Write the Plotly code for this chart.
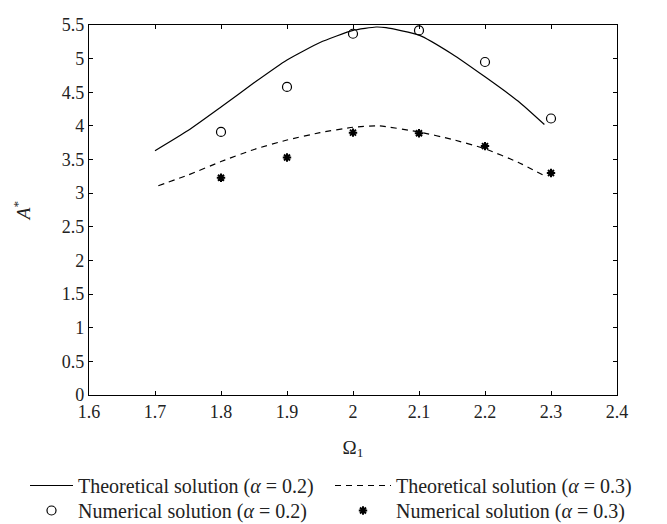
import plotly.graph_objects as go

# Theoretical curves
theo_x_02 = [1.70, 1.75, 1.80, 1.85, 1.90, 1.95, 2.00, 2.035, 2.05, 2.10, 2.15, 2.20, 2.25, 2.29]
theo_y_02 = [3.63, 3.93, 4.28, 4.64, 4.98, 5.24, 5.42, 5.47, 5.46, 5.35, 5.07, 4.73, 4.37, 4.02]
theo_x_03 = [1.705, 1.75, 1.80, 1.85, 1.90, 1.95, 2.00, 2.04, 2.10, 2.15, 2.20, 2.25, 2.29]
theo_y_03 = [3.11, 3.27, 3.47, 3.65, 3.79, 3.90, 3.98, 4.00, 3.91, 3.80, 3.66, 3.46, 3.26]

# Numerical solutions
num_x = [1.8, 1.9, 2.0, 2.1, 2.2, 2.3]
num_y_02 = [3.91, 4.58, 5.37, 5.42, 4.95, 4.11]
num_y_03 = [3.23, 3.53, 3.90, 3.89, 3.70, 3.30]

x_ticks = [1.6, 1.7, 1.8, 1.9, 2.0, 2.1, 2.2, 2.3, 2.4]
x_tick_labels = ["1.6", "1.7", "1.8", "1.9", "2", "2.1", "2.2", "2.3", "2.4"]
y_ticks = [0, 0.5, 1, 1.5, 2, 2.5, 3, 3.5, 4, 4.5, 5, 5.5]
y_tick_labels = ["0", "0.5", "1", "1.5", "2", "2.5", "3", "3.5", "4", "4.5", "5", "5.5"]

FONT = "Liberation Serif, Times New Roman, serif"
TXT = "#222"

W, H = 667, 524
ML, MR, MT, MB = 81, 58, 17, 137
PW, PH = W - ML - MR, H - MT - MB


def px_x(px):
    return (px - ML) / PW


def px_y(py):
    return (H - MB - py) / PH


fig = go.Figure()
fig.add_trace(go.Scatter(x=theo_x_02, y=theo_y_02, mode="lines",
                         line=dict(color="black", width=1.2, shape="spline", smoothing=0.5),
                         name="Theoretical solution (<i>α</i> = 0.2)", legend="legend"))
fig.add_trace(go.Scatter(x=theo_x_03, y=theo_y_03, mode="lines",
                         line=dict(color="black", width=1.2, dash="6px,5px", shape="spline", smoothing=0.5),
                         name="Theoretical solution (<i>α</i> = 0.3)", legend="legend2"))
fig.add_trace(go.Scatter(x=num_x, y=num_y_02, mode="markers",
                         marker=dict(symbol="circle-open", size=9, color="black", line=dict(width=1.2)),
                         name="Numerical solution (<i>α</i> = 0.2)", legend="legend3"))
fig.add_trace(go.Scatter(x=num_x, y=num_y_03, mode="markers",
                         marker=dict(symbol="asterisk-open", size=7, color="black", line=dict(width=2, color="black")),
                         name="Numerical solution (<i>α</i> = 0.3)", legend="legend4"))

axis_common = dict(showgrid=False, zeroline=False, showline=True, linecolor="black", linewidth=1.2,
                   mirror="ticks", ticks="inside", ticklen=4, tickcolor="black",
                   tickfont=dict(family=FONT, size=18, color=TXT))

leg_common = dict(orientation="v", xanchor="left", yanchor="top", tracegroupgap=0,
                  bgcolor="rgba(0,0,0,0)",
                  font=dict(family=FONT, size=20, color=TXT))

fig.update_layout(
    width=W, height=H,
    margin=dict(l=ML, r=MR, t=MT, b=MB, autoexpand=False),
    paper_bgcolor="white", plot_bgcolor="white",
    font=dict(family=FONT, size=18, color=TXT),
    xaxis=dict(range=[1.6, 2.4], tickvals=x_ticks, ticktext=x_tick_labels,
               title=dict(text="Ω<sub>1</sub>", font=dict(family=FONT, size=19), standoff=19),
               **axis_common),
    yaxis=dict(range=[0, 5.5], tickvals=y_ticks, ticktext=y_tick_labels,
               title=dict(text="<i>A</i><sup>*</sup>", font=dict(family=FONT, size=19), standoff=26),
               **axis_common),
    showlegend=True,
    legend=dict(x=px_x(17), y=px_y(458), itemwidth=43, **leg_common),
    legend2=dict(x=px_x(322), y=px_y(458), itemwidth=56, **leg_common),
    legend3=dict(x=px_x(17), y=px_y(483), itemwidth=43, **leg_common),
    legend4=dict(x=px_x(322), y=px_y(483), itemwidth=56, **leg_common),
)

fig.write_html("out.html")
